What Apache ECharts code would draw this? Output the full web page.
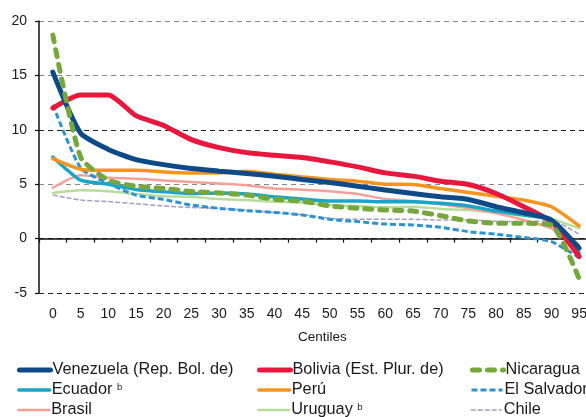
<!DOCTYPE html>
<html><head><meta charset="utf-8">
<script src="https://cdn.jsdelivr.net/npm/echarts@6/dist/echarts.min.js"></script>
<style>html,body{margin:0;padding:0;background:#fff}#c{width:586px;height:417px}</style>
</head><body><div id="c"></div>
<script>
const centiles = ['0','5','10','15','20','25','30','35','40','45','50','55','60','65','70','75','80','85','90','95'];
const yTicks = [-5, 0, 5, 10, 15, 20];
const venezuela = [15.3, 9.7, 8.2, 7.26, 6.8, 6.44, 6.2, 5.98, 5.74, 5.43, 5.16, 4.82, 4.46, 4.15, 3.84, 3.6, 2.93, 2.38, 1.71, -0.88];
const bolivia   = [12.0, 13.2, 13.2, 11.3, 10.4, 9.1, 8.36, 7.9, 7.66, 7.45, 7.05, 6.59, 6.04, 5.74, 5.28, 4.97, 4.15, 2.93, 1.56, -1.65];
const nicaragua = [18.7, 7.5, 5.37, 4.82, 4.6, 4.33, 4.2, 4.0, 3.63, 3.45, 3.0, 2.78, 2.63, 2.53, 2.1, 1.62, 1.41, 1.41, 1.25, -3.7];
const ecuador   = [7.5, 5.37, 5.0, 4.52, 4.3, 4.15, 4.2, 4.1, 3.84, 3.63, 3.45, 3.45, 3.39, 3.39, 3.24, 3.0, 2.53, 2.17, 1.71, -1.3];
const peru      = [7.35, 6.38, 6.28, 6.28, 6.13, 6.04, 6.04, 6.19, 5.92, 5.67, 5.43, 5.28, 5.0, 4.97, 4.6, 4.24, 3.9, 3.54, 2.93, 1.16];
const elSalvador= [12.3, 6.5, 5.07, 4.0, 3.6, 3.08, 2.78, 2.56, 2.41, 2.17, 1.77, 1.56, 1.34, 1.25, 1.04, 0.64, 0.4, 0.1, -0.27, -1.75];
const brasil    = [4.67, 5.83, 5.6, 5.5, 5.35, 5.2, 5.07, 4.9, 4.6, 4.5, 4.36, 4.1, 3.63, 3.45, 3.15, 2.78, 2.32, 1.71, 0.95, -0.58];
const uruguay   = [4.2, 4.45, 4.36, 4.1, 3.9, 3.84, 3.63, 3.54, 3.39, 3.3, 3.08, 3.0, 2.87, 2.93, 2.72, 2.63, 2.38, 2.08, 1.8, 0.95];
const chile     = [4.0, 3.54, 3.4, 3.2, 3.0, 2.85, 2.78, 2.6, 2.4, 2.2, 1.87, 1.77, 1.77, 1.77, 1.7, 1.71, 1.6, 1.55, 1.65, 0.4];

const names = {
  ven: 'Venezuela (Rep. Bol. de)', bol: 'Bolivia (Est. Plur. de)', nic: 'Nicaragua',
  ecu: 'Ecuador', per: 'Perú', els: 'El Salvador',
  bra: 'Brasil', uru: 'Uruguay', chi: 'Chile'
};
const FONT = '"Liberation Sans", Arial, sans-serif';

const styles = {};
function mk(key, data, color, width, type, cap, z) {
  styles[names[key]] = { color: color, width: width, type: type, cap: cap };
  return {
    name: names[key], type: 'line', data: data, xAxisIndex: 0, yAxisIndex: 0,
    showSymbol: false, symbol: 'none', smooth: 0.2, z: z,
    lineStyle: { color: color, width: width, type: type, cap: cap },
    itemStyle: { color: color },
    emphasis: { disabled: true }
  };
}

const series = [
  mk('ven', venezuela, '#0d4a87', 5, 'solid', 'round', 9),
  mk('bol', bolivia, '#e8173e', 5, 'solid', 'round', 8),
  mk('nic', nicaragua, '#76a73c', 5, [7, 8], 'round', 10),
  mk('ecu', ecuador, '#19a5c9', 3.5, 'solid', 'round', 6),
  mk('per', peru, '#f7941d', 3.5, 'solid', 'round', 7),
  mk('els', elSalvador, '#2a93d5', 3, [6, 3], 'butt', 5),
  mk('bra', brasil, '#f4a098', 2.5, 'solid', 'round', 4),
  mk('uru', uruguay, '#b7dc9b', 2.5, 'solid', 'round', 3),
  mk('chi', chile, '#a59cc6', 1.5, [5, 2], 'butt', 2)
];

function legendItem(left, top, k) {
  const s = styles[names[k]];
  return {
    orient: 'horizontal', left: left, top: top, itemWidth: 31, itemHeight: 14, itemGap: 5,
    padding: 0, selectedMode: false,
    data: [{ name: names[k], itemStyle: { color: 'rgba(0,0,0,0)', borderWidth: 0, opacity: 0 },
      lineStyle: { color: s.color, width: s.width, type: s.type, cap: s.cap } }],
    textStyle: {
      fontFamily: FONT, fontSize: 16.3, color: '#1a1a1a', lineHeight: 16, padding: [0, 0, 0, -3],
      rich: { s: { fontSize: 9.5, fontFamily: FONT, color: '#1a1a1a', verticalAlign: 'top', lineHeight: 16 } }
    },
    formatter: function (n) {
      if (n === names.ecu || n === names.uru) return n + ' {s|b}';
      return n;
    }
  };
}

const colLeft = [17, 257, 470];
const rowTop = [362, 382, 402];
const legendLayout = [['ven', 'bol', 'nic'], ['ecu', 'per', 'els'], ['bra', 'uru', 'chi']];
const legends = [];
legendLayout.forEach(function (row, r) {
  row.forEach(function (k, c) { legends.push(legendItem(colLeft[c], rowTop[r], k)); });
});

const chart = echarts.init(document.getElementById('c'), null, { renderer: 'canvas' });
chart.setOption({
  animation: false,
  backgroundColor: '#fff',
  grid: { left: 39, width: 554, top: 21, bottom: 124, containLabel: false, outerBoundsMode: 'none' },
  xAxis: [
    {
      type: 'category', data: centiles, position: 'bottom', boundaryGap: true,
      axisLine: { show: false, onZero: false }, axisTick: { show: false },
      axisLabel: { margin: 14, fontFamily: FONT, fontSize: 14, color: '#1a1a1a' },
      splitLine: { show: false }
    },
    {
      type: 'category', data: centiles, position: 'top', boundaryGap: true,
      axisLine: { show: true, onZero: true, lineStyle: { color: '#111', width: 1.5 } },
      axisTick: { show: true, inside: true, length: 4, lineStyle: { color: '#111', width: 1.2 } },
      axisLabel: { show: false }, splitLine: { show: false }
    }
  ],
  yAxis: {
    type: 'value', min: -5, max: 20, interval: 5,
    axisLine: { show: true, onZero: false, lineStyle: { color: '#111', width: 1.5 } },
    axisTick: { show: true, length: 4, lineStyle: { color: '#111', width: 1.2 } },
    axisLabel: { margin: 12, fontFamily: FONT, fontSize: 14, color: '#1a1a1a',
      formatter: function (v) { return yTicks.indexOf(v) >= 0 ? String(v) : ''; } },
    splitLine: { show: true, lineStyle: { type: [5, 4], width: 1.2, color: ['#222', '#222', '#888', '#222', '#888', '#888'] } }
  },
  legend: legends,
  graphic: [
    { type: 'text', left: 298, top: 330, silent: true,
      style: { text: 'Centiles', fontFamily: FONT, fontSize: 13.5, fill: '#1a1a1a' } }
  ],
  series: series
});
</script>
</body></html>
